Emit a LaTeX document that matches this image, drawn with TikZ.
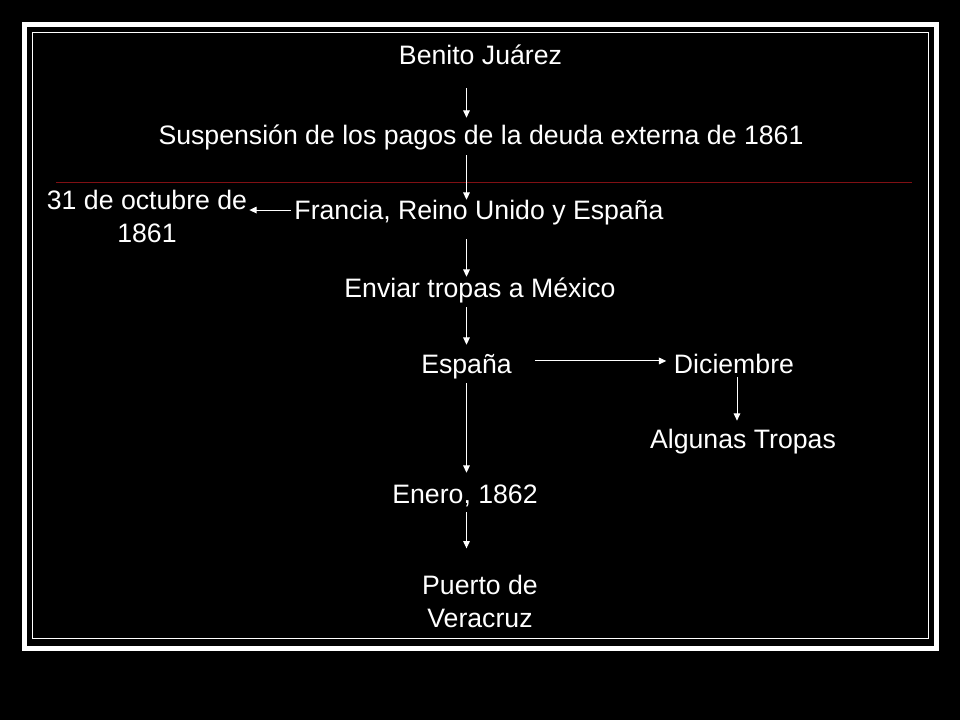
\documentclass[tikz,border=0pt]{standalone}
\usepackage{fontspec}
\setmainfont{Liberation Sans}
\usepackage{xcolor}
\usetikzlibrary{arrows.meta}
\definecolor{linered}{RGB}{128,16,20}

\begin{document}
\begin{tikzpicture}[x=0.75pt,y=-0.75pt,
		txt/.style={text=white,font=\fontsize{20}{24.75}\selectfont,inner sep=0pt,anchor=base,text height=13pt,text depth=3.75pt},
		twoline/.style={text=white,font=\fontsize{20}{24.75}\selectfont,inner sep=0pt,align=center,anchor=north},
		arr/.style={white,line width=0.75pt,-{Triangle[length=5.5pt,width=5pt]}}]
		\useasboundingbox (0,0) rectangle (960,720);
		\fill[black] (0,0) rectangle (960,720);
		\draw[white,line width=3.75pt] (24.5,24.5) rectangle (936,648.5);
		\draw[white,line width=1pt] (32.3,32.3) rectangle (928.5,638.5);
		\draw[linered,line width=1pt] (56,182.5)--(912,182.5);
		\node[txt] (benito) at (480.5,65) {Benito Juárez};
		\node[txt] (susp) at (481,145) {Suspensión de los pagos de la deuda externa de 1861};
		\node[txt] (francia) at (479,220) {Francia, Reino Unido y España};
		\node[twoline] (octubre) at (147,189.5) {31 de octubre de\\1861};
		\node[txt] (enviar) at (480,297) {Enviar tropas a México};
		\node[txt] (espana) at (466.5,373) {España};
		\node[txt] (dic) at (734,373) {Diciembre};
		\node[txt] (algunas) at (743,448) {Algunas Tropas};
		\node[txt] (enero) at (465,503) {Enero, 1862};
		\node[twoline] (puerto) at (480,575) {Puerto de\\Veracruz};
		\draw[arr,shorten <=13.5pt,shorten >=7.3pt] (benito.south -| espana) -- (susp.north -| espana);
		\draw[arr,shorten <=3.75pt,shorten >=2pt] (susp.south -| espana) -- (francia.north -| espana);
		\draw[arr,shorten <=10.5pt,shorten >=2pt] (francia.south -| espana) -- (enviar.north -| espana);
		\draw[arr,shorten <=3.75pt,shorten >=8pt] (enviar.south -| espana) -- (espana.north);
		\draw[arr,shorten <=3.75pt,shorten >=9.5pt] (espana.south) -- (enero.north -| espana);
		\draw[arr,shorten <=3pt,shorten >=20pt] (enero.south -| espana) -- (puerto.north -| espana);
		\draw[arr,shorten <=17.25pt,shorten >=5.6pt] ([yshift=4.4pt]espana.east) -- ([yshift=4.4pt]dic.west);
		\draw[arr,shorten <=-0.75pt,shorten >=7.3pt] ([xshift=2.25pt]dic.south) -- ([xshift=2.25pt]dic.south |- algunas.north);
		\draw[arr,shorten <=2.25pt,shorten >=1.5pt] ([yshift=2.85pt]francia.west) -- ([yshift=2.85pt]francia.west -| octubre.east);
	\end{tikzpicture}
\end{document}
